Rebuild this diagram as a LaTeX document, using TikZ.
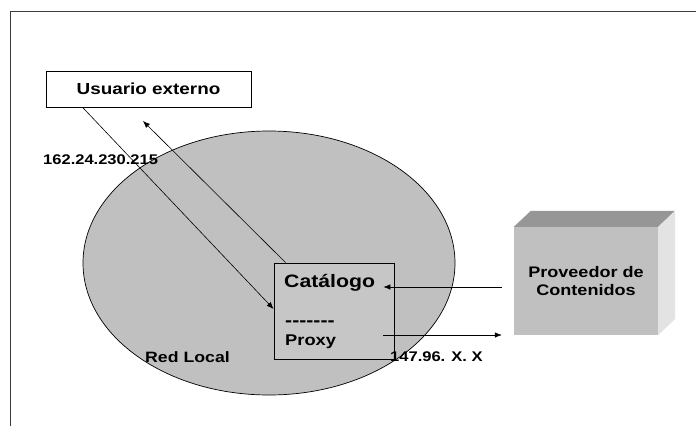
\documentclass[tikz,border=0pt]{standalone}
\usepackage{fontspec}
\setmainfont[FakeStretch=1.18]{Liberation Sans}
\usepackage{tikz}
\usetikzlibrary{arrows}
\usetikzlibrary{arrows.meta}
\usetikzlibrary{positioning}
\definecolor{redgray}{HTML}{C0C0C0}
\definecolor{boxgray}{HTML}{C6C6C6}
\definecolor{topgray}{HTML}{969696}
\definecolor{sidegray}{HTML}{E3E3E3}
\definecolor{framegray}{HTML}{3C3C3C}
\tikzset{box/.style = {draw, rectangle, inner sep = 0, line width = 0.8}}
\tikzset{txt/.style = {inner sep = 0, anchor = base west, font = \bfseries\fontsize{#1}{#1}\selectfont}}
\tikzset{flow/.style = {-{Latex[length = 7pt, width = 5.5pt]}, line width = 0.6}}
\newcommand{\dashrow}{-\kern0pt-\kern0pt-\kern0pt-\kern0pt-\kern0pt-\kern0pt-}

\begin{document}
\begin{tikzpicture}[x = 1pt, y = -1pt]
      \useasboundingbox (0, 0) rectangle (696, 426);
      \draw [framegray, line width = 1] (10, 426) -- (10, 11) -- (696, 11);
      \filldraw [fill = redgray, line width = 0.7] (269, 263) ellipse [x radius = 186pt, y radius = 132pt];
      \node [box, fill = boxgray, minimum width = 120pt, minimum height = 96pt] (catalogo) at (334, 311) {};
      \node [box, minimum width = 205pt, minimum height = 36pt, font = \bfseries\fontsize{16}{18}\selectfont] (usuario) at (148.5, 89) {Usuario externo};
      \node [fill = redgray, inner sep = 0, minimum width = 144pt, minimum height = 108pt, align = center, font = \bfseries\fontsize{15.3}{18.3}\selectfont] (proveedor) at (586, 281) {Proveedor de\\Contenidos};
      \fill [topgray] (proveedor.north west) -- ++(17, -16) -- ++(144, 0) -- (proveedor.north east) -- cycle;
      \fill [sidegray] (proveedor.north east) -- ++(17, -16) -- ++(0, 108) -- (proveedor.south east) -- cycle;
      \node [txt = 18] (cat) at (284, 287) {Catálogo};
      \node [txt = 18] (sep) at (285, 326.5) {\dashrow};
      \node [txt = 15.5] (proxy) at (285, 345) {Proxy};
      \node [txt = 15] (red) at (145, 362) {Red Local};
      \node [txt = 14] (ipext) at (43, 164) {162.24.230.215};
      \node [txt = 14] (ipint) at (390, 361.5) {147.96. X. X};
      \coordinate (tipU) at (143, 121);
      \draw [flow] ([xshift = 37pt] usuario.south west) -- ([yshift = 2pt] catalogo.west);
      \draw [flow] ([xshift = 12pt] catalogo.north west) -- (tipU);
      \draw [flow] ([xshift = -12pt, yshift = -6pt] proveedor.west) -- ([xshift = -11pt, yshift = 24pt] catalogo.east);
      \draw [flow] ([xshift = -11pt, yshift = -24pt] catalogo.east) -- ([xshift = -12pt, yshift = -54pt] proveedor.west);
\end{tikzpicture}
\end{document}
